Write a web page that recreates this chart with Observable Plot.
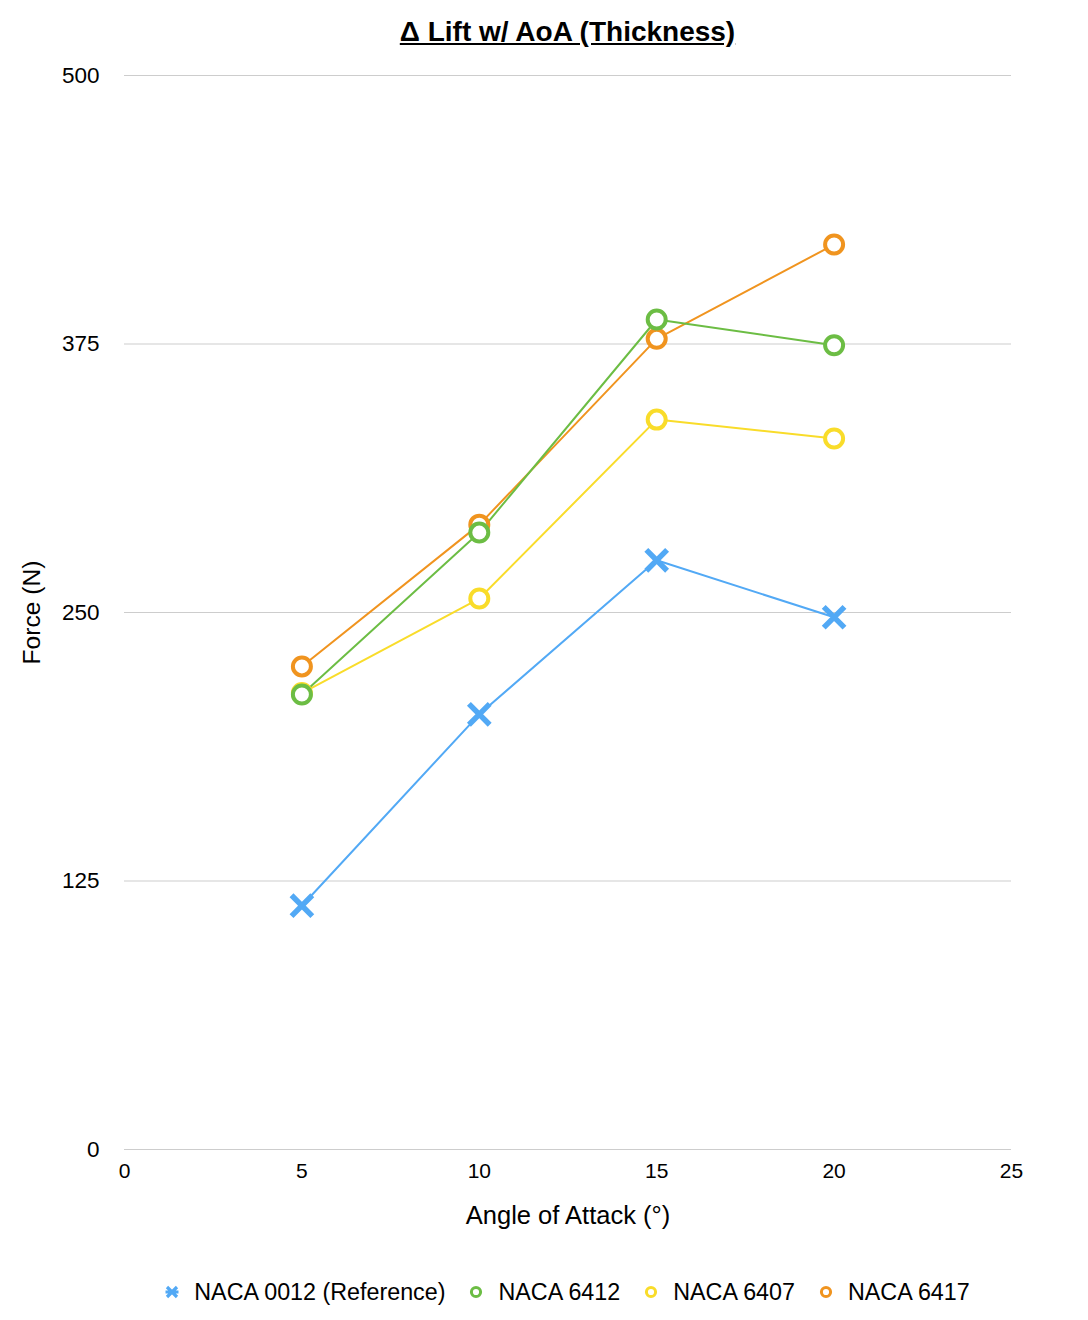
<!DOCTYPE html>
<html>
<head>
<meta charset="utf-8">
<script src="https://cdn.jsdelivr.net/npm/d3@7"></script>
<script src="https://cdn.jsdelivr.net/npm/@observablehq/plot@0.6"></script>
<style>
  body { margin: 0; background: #fff; font-family: "Liberation Sans", Arial, Helvetica, sans-serif; }
  #title { width: 1088px; box-sizing: border-box; padding: 16px 77px 0 124px; height: 56px; text-align: center;
           font-size: 28px; font-weight: bold; line-height: 32px; text-decoration: underline; color: #000; }
  #legend { width: 1088px; box-sizing: border-box; padding: 0 77px 0 124px; margin-top: 32px;
            display: flex; justify-content: center; align-items: center; font-size: 23.3px; line-height: 28px; color: #000; }
  .item { display: flex; align-items: center; margin: 0 12px; }
  .item svg { margin-right: 15px; }
  g[aria-label="y-axis label"] text { font-size: 24.6px; }
  g[aria-label="x-axis label"] text { font-size: 25.5px; }
  g[aria-label="y-axis label"] { font-size: 24.6px; }
  g[aria-label="x-axis label"] { font-size: 25.5px; }
</style>
</head>
<body>
<div id="title">Δ Lift w/ AoA (Thickness)</div>
<div id="chart"></div>
<div id="legend"></div>
<script>
const angles = [5, 10, 15, 20];
const seriesNames = ["NACA 0012 (Reference)", "NACA 6412", "NACA 6407", "NACA 6417"];
const naca0012 = [113.5, 202.6, 274.3, 247.8];
const naca6412 = [211.8, 287.2, 386.4, 374.4];
const naca6407 = [212.5, 256.5, 339.8, 331.0];
const naca6417 = [224.9, 290.9, 377.4, 421.3];
const seriesColors = ["#52a9f5", "#6cbd44", "#f9dc2a", "#f0941f"];
const xTicks = [0, 5, 10, 15, 20, 25];
const yTicks = [0, 125, 250, 375, 500];

const valuesBySeries = [naca0012, naca6412, naca6407, naca6417];
const rows = [];
seriesNames.forEach((s, i) => angles.forEach((a, j) => rows.push({series: s, angle: a, force: valuesBySeries[i][j]})));
// draw order: reference, 6407, 6417, 6412 (green on top)
const drawOrder = [0, 2, 3, 1];

const marks = [
  Plot.gridY(yTicks, {stroke: "#cdcdcd", strokeOpacity: 1, strokeWidth: 1}),
  Plot.axisY(yTicks, {tickSize: 0, tickPadding: 25, fontSize: 22.5, label: "Force (N)", labelAnchor: "center", labelArrow: "none", labelOffset: 102}),
  Plot.axisX(xTicks, {tickSize: 0, tickPadding: 14, fontSize: 21, label: "Angle of Attack (°)", labelAnchor: "center", labelArrow: "none", labelOffset: 74})
];
for (const i of drawOrder) {
  const d = rows.filter(r => r.series === seriesNames[i]);
  marks.push(Plot.line(d, {x: "angle", y: "force", stroke: seriesColors[i], strokeWidth: 2}));
}
for (const i of drawOrder) {
  const d = rows.filter(r => r.series === seriesNames[i]);
  if (i === 0) {
    marks.push(Plot.dot(d, {x: "angle", y: "force", symbol: "times", r: 9.5, stroke: seriesColors[i], strokeWidth: 5.5, strokeLinecap: "butt"}));
  } else {
    marks.push(Plot.dot(d, {x: "angle", y: "force", r: 9, stroke: seriesColors[i], strokeWidth: 4, fill: "white"}));
  }
}

const chart = Plot.plot({
  width: 1088,
  height: 1190,
  marginTop: 19,
  marginBottom: 97,
  marginLeft: 124,
  marginRight: 77,
  style: {fontFamily: "'Liberation Sans', Arial, Helvetica, sans-serif", fontSize: "21px", color: "#000", background: "#fff"},
  x: {domain: [0, 25]},
  y: {domain: [0, 500]},
  marks
});
document.getElementById("chart").appendChild(chart);

const legend = document.getElementById("legend");
seriesNames.forEach((s, i) => {
  const item = document.createElement("div");
  item.className = "item";
  const c = seriesColors[i];
  const icon = i === 0
    ? `<svg width="14" height="14" viewBox="-7 -7 14 14"><path d="M-5,-5L5,5M5,-5L-5,5M-6.5,0L6.5,0" stroke="${c}" stroke-width="3.2"/></svg>`
    : `<svg width="14" height="14" viewBox="-7 -7 14 14"><circle r="4.6" fill="white" stroke="${c}" stroke-width="3"/></svg>`;
  item.innerHTML = icon + `<span>${s}</span>`;
  legend.appendChild(item);
});
</script>
</body>
</html>
